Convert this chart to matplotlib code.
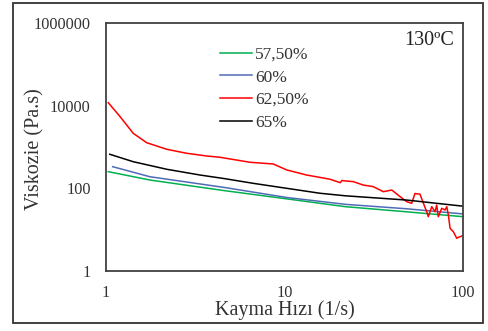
import matplotlib.pyplot as plt
from matplotlib.patches import Rectangle

plt.rcParams['font.family'] = ['Liberation Serif', 'DejaVu Serif']

# viscosity vs shear rate at 130 C
green_x = [1.03, 1.76, 4.6, 10.3, 21.9, 48.4, 100]
green_y = [253, 159, 88, 55.6, 36, 27, 20.6]

blue_x = [1.09, 1.76, 4.6, 10.3, 21.9, 48.4, 100]
blue_y = [334, 191, 105, 60, 41, 32, 24]

red_x = [1.03, 1.20, 1.42, 1.69, 2.19, 2.83, 3.66, 4.35, 6.41, 8.65, 10.3, 13.3,
         18.0, 20.5, 21.0, 21.3, 24.3, 27.6, 31.4, 35.8, 39.9, 44.4, 48.4, 51.6,
         53.8, 57.4, 60.0, 62.6, 63.9, 66.8, 69.7, 71.2, 72.7, 76.0, 79.3, 81.1,
         82.8, 84.6, 88.3, 92.2, 94.2, 98.3]
red_y = [11800, 5410, 2150, 1270, 880, 705, 606, 564, 427, 388, 278, 210,
         166, 137, 155, 153, 145, 120, 110, 83, 91, 63, 47.5, 43.5,
         75, 72, 43.5, 27.2, 20.6, 36, 27.2, 39.5, 20.6, 32.9, 29.9, 36,
         22.6, 10.8, 8.9, 6.2, 6.5, 7.0]

black_x = [1.05, 1.42, 2.19, 3.36, 4.6, 6.69, 10.3, 15.8, 21.9, 48.4, 100]
black_y = [667, 441, 289, 210, 172, 132, 100, 76, 66, 52, 37]

labels = ['57,50%', '60%', '62,50%', '65%']

fig = plt.figure(figsize=(4.88, 3.31), dpi=100)
ax = fig.add_axes([0.2172, 0.1813, 0.7316, 0.7492])

ax.plot(green_x, green_y, color='#00B050', lw=1.1, label=labels[0])
ax.plot(blue_x, blue_y, color='#4F6BB5', lw=1.1, label=labels[1])
ax.plot(red_x, red_y, color='#FF0000', lw=1.1, label=labels[2])
ax.plot(black_x, black_y, color='#000000', lw=1.1, label=labels[3])

ax.set_xscale('log')
ax.set_yscale('log')
ax.set_xlim(1, 100)
ax.set_ylim(1, 1000000)
ax.set_xticks([1, 10, 100])
ax.set_xticklabels(['1', '10', '100'])
ax.set_yticks([1, 100, 10000, 1000000])
ax.set_yticklabels(['1', '100', '10000', '1000000'])
ax.minorticks_off()
ax.tick_params(length=0, labelsize=11.7, colors='#333333')
ax.tick_params(axis='x', pad=10)
ax.tick_params(axis='y', pad=11)
for s in ax.spines.values():
    s.set_color('#404040')
    s.set_linewidth(1.3)

ax.set_xlabel('Kayma Hızı (1/s)', fontsize=14.5, color='#333333')
ax.set_ylabel('Viskozie (Pa.s)', fontsize=14.5, color='#333333')
ax.xaxis.set_label_coords(0.5, -0.157)
ax.yaxis.set_label_coords(-0.2, 0.492)
ax.xaxis.label.set_va('center')
ax.yaxis.label.set_va('center')

ax.legend(loc='upper left', bbox_to_anchor=(0.291, 0.946), frameon=False,
          fontsize=12.5, handlelength=1.85, handletextpad=0.15, labelspacing=0.37,
          borderaxespad=0.2, labelcolor='#333333')
ax.text(0.975, 0.967, '130ºC', transform=ax.transAxes, ha='right', va='top',
        fontsize=14.5, color='#222222')

# outer frame around the whole figure
fig.patches.append(Rectangle((0.0266, 0.0242), 0.963, 0.967, transform=fig.transFigure,
                             fill=False, edgecolor='#333333', lw=1.3))

fig.savefig('out.png', dpi=100)
